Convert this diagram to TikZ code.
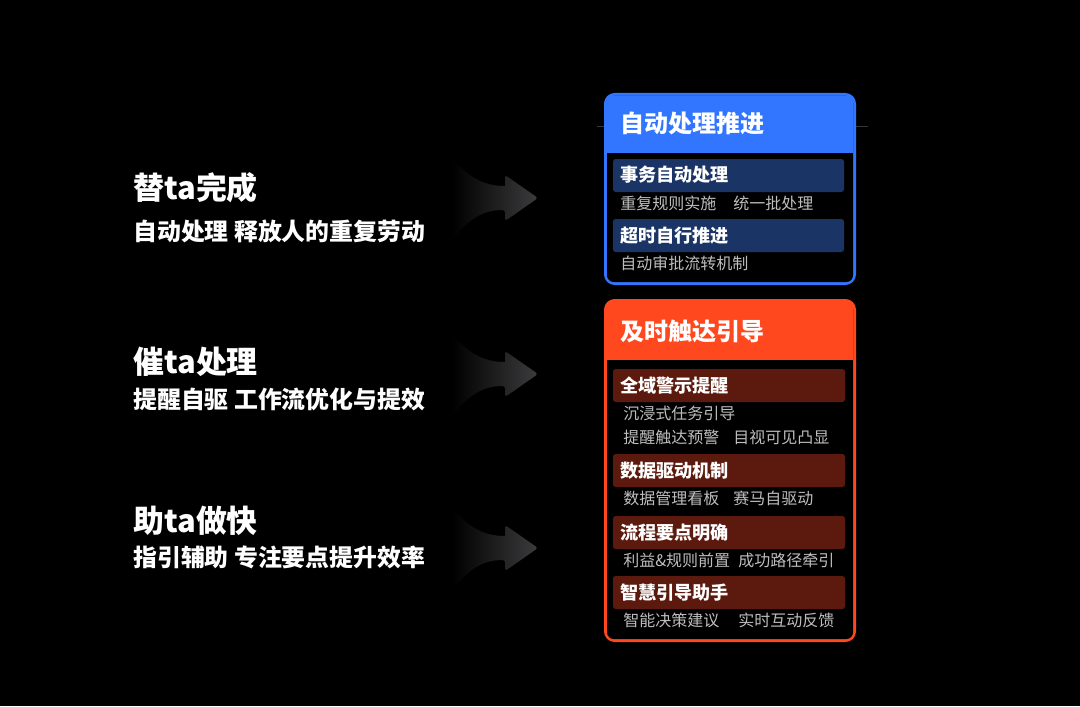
\documentclass[tikz,border=0pt]{standalone}
\usepackage{fontspec}
\setmainfont{Noto Sans CJK SC}
\usepackage{xcolor}
\usepackage{tikz}
\usetikzlibrary{positioning}

\definecolor{hdblue}{RGB}{50,118,255}
\definecolor{hdred}{RGB}{255,72,30}
\definecolor{navybar}{RGB}{27,52,102}
\definecolor{rustbar}{RGB}{92,26,14}
\definecolor{itemgray}{RGB}{190,190,190}
\definecolor{arrowgray}{RGB}{60,60,62}
\definecolor{linegray}{RGB}{55,55,55}

\begin{document}
\begin{tikzpicture}[x=0.75pt, y=-0.75pt,
    lead/.style={anchor=west, text=white, inner sep=0pt, font=\fontsize{23.2}{25}\selectfont\bfseries},
    sublead/.style={anchor=west, text=white, inner sep=0pt, font=\fontsize{17.9}{20}\selectfont\bfseries},
    cardtitle/.style={anchor=west, text=white, inner sep=0pt, font=\fontsize{18}{20}\selectfont\bfseries},
    bartext/.style={anchor=west, text=white, inner sep=0pt, font=\fontsize{13.6}{15}\selectfont\bfseries},
    itemtext/.style={anchor=west, text=itemgray, inner sep=0pt, font=\fontsize{12}{14}\selectfont}]
    % Background
    \fill[black] (0,0) rectangle (1080,706);
    \useasboundingbox (0,0) rectangle (1080,706);
    % Left statements
    \node[lead] (replace) at (133,188) {替ta完成};
    \node[sublead] (replacesub) at (133,231) {自动处理 释放人的重复劳动};
    \node[lead] (urge) at (133,362) {催ta处理};
    \node[sublead] (urgesub) at (133,399) {提醒自驱 工作流优化与提效};
    \node[lead] (help) at (133,521) {助ta做快};
    \node[sublead] (helpsub) at (133,557) {指引辅助 专注要点提升效率};
    % Arrows
    \foreach \y in {198,374,548}
      \shade[left color=black, right color=arrowgray]
        (452,\y-40) .. controls (468,\y-22) and (482,\y-12) .. (505,\y-12)
        [rounded corners=2] -- (505,\y-23) -- (538,\y) -- (505,\y+23) -- (505,\y+12) [sharp corners]
        .. controls (482,\y+12) and (468,\y+22) .. (452,\y+42) -- cycle;
    % Blue card
    \draw[linegray, thin] (597,126) -- (868,126);
    \fill[hdblue, rounded corners=8] (604,93) rectangle (856,285);
    \fill[black, rounded corners=5] (607,96) rectangle (853,282);
    \fill[hdblue] (607,96) rectangle (853,153);
    \node[cardtitle] (autotitle) at (620,123) {自动处理推进};
    \fill[navybar, rounded corners=2] (613,159) rectangle (844,192);
    \node[bartext] (autobarA) at (620,175) {事务自动处理};
    \node[itemtext] (autoitemA) at (620,203) {重复规则实施};
    \node[itemtext] (autoitemB) at (733,203) {统一批处理};
    \fill[navybar, rounded corners=2] (613,219) rectangle (844,252);
    \node[bartext] (autobarB) at (620,236) {超时自行推进};
    \node[itemtext] (autoitemC) at (620,263) {自动审批流转机制};
    % Red card
    \fill[hdred, rounded corners=8] (604,299) rectangle (856,642);
    \fill[black, rounded corners=5] (607,302) rectangle (853,639);
    \fill[hdred] (607,302) rectangle (853,360);
    \node[cardtitle] (guidetitle) at (620,331) {及时触达引导};
    \foreach \t/\name [count=\i] in {369/全域警示提醒, 454/数据驱动机制, 516/流程要点明确, 576/智慧引导助手} {
      \fill[rustbar, rounded corners=2] (613,\t) rectangle (845,\t+33);
      \node[bartext] (guidebar\i) at (620,\t+16.5) {\name};
    }
    \node[itemtext] (guideitemA) at (623,413) {沉浸式任务引导};
    \node[itemtext] (guideitemB) at (623,437) {提醒触达预警};
    \node[itemtext] (guideitemC) at (733,437) {目视可见凸显};
    \node[itemtext] (guideitemD) at (623,498) {数据管理看板};
    \node[itemtext] (guideitemE) at (733,498) {赛马自驱动};
    \node[itemtext] (guideitemF) at (623,560) {利益\&规则前置};
    \node[itemtext] (guideitemG) at (738,560) {成功路径牵引};
    \node[itemtext] (guideitemH) at (623,620) {智能决策建议};
    \node[itemtext] (guideitemI) at (738,620) {实时互动反馈};
\end{tikzpicture}
\end{document}
